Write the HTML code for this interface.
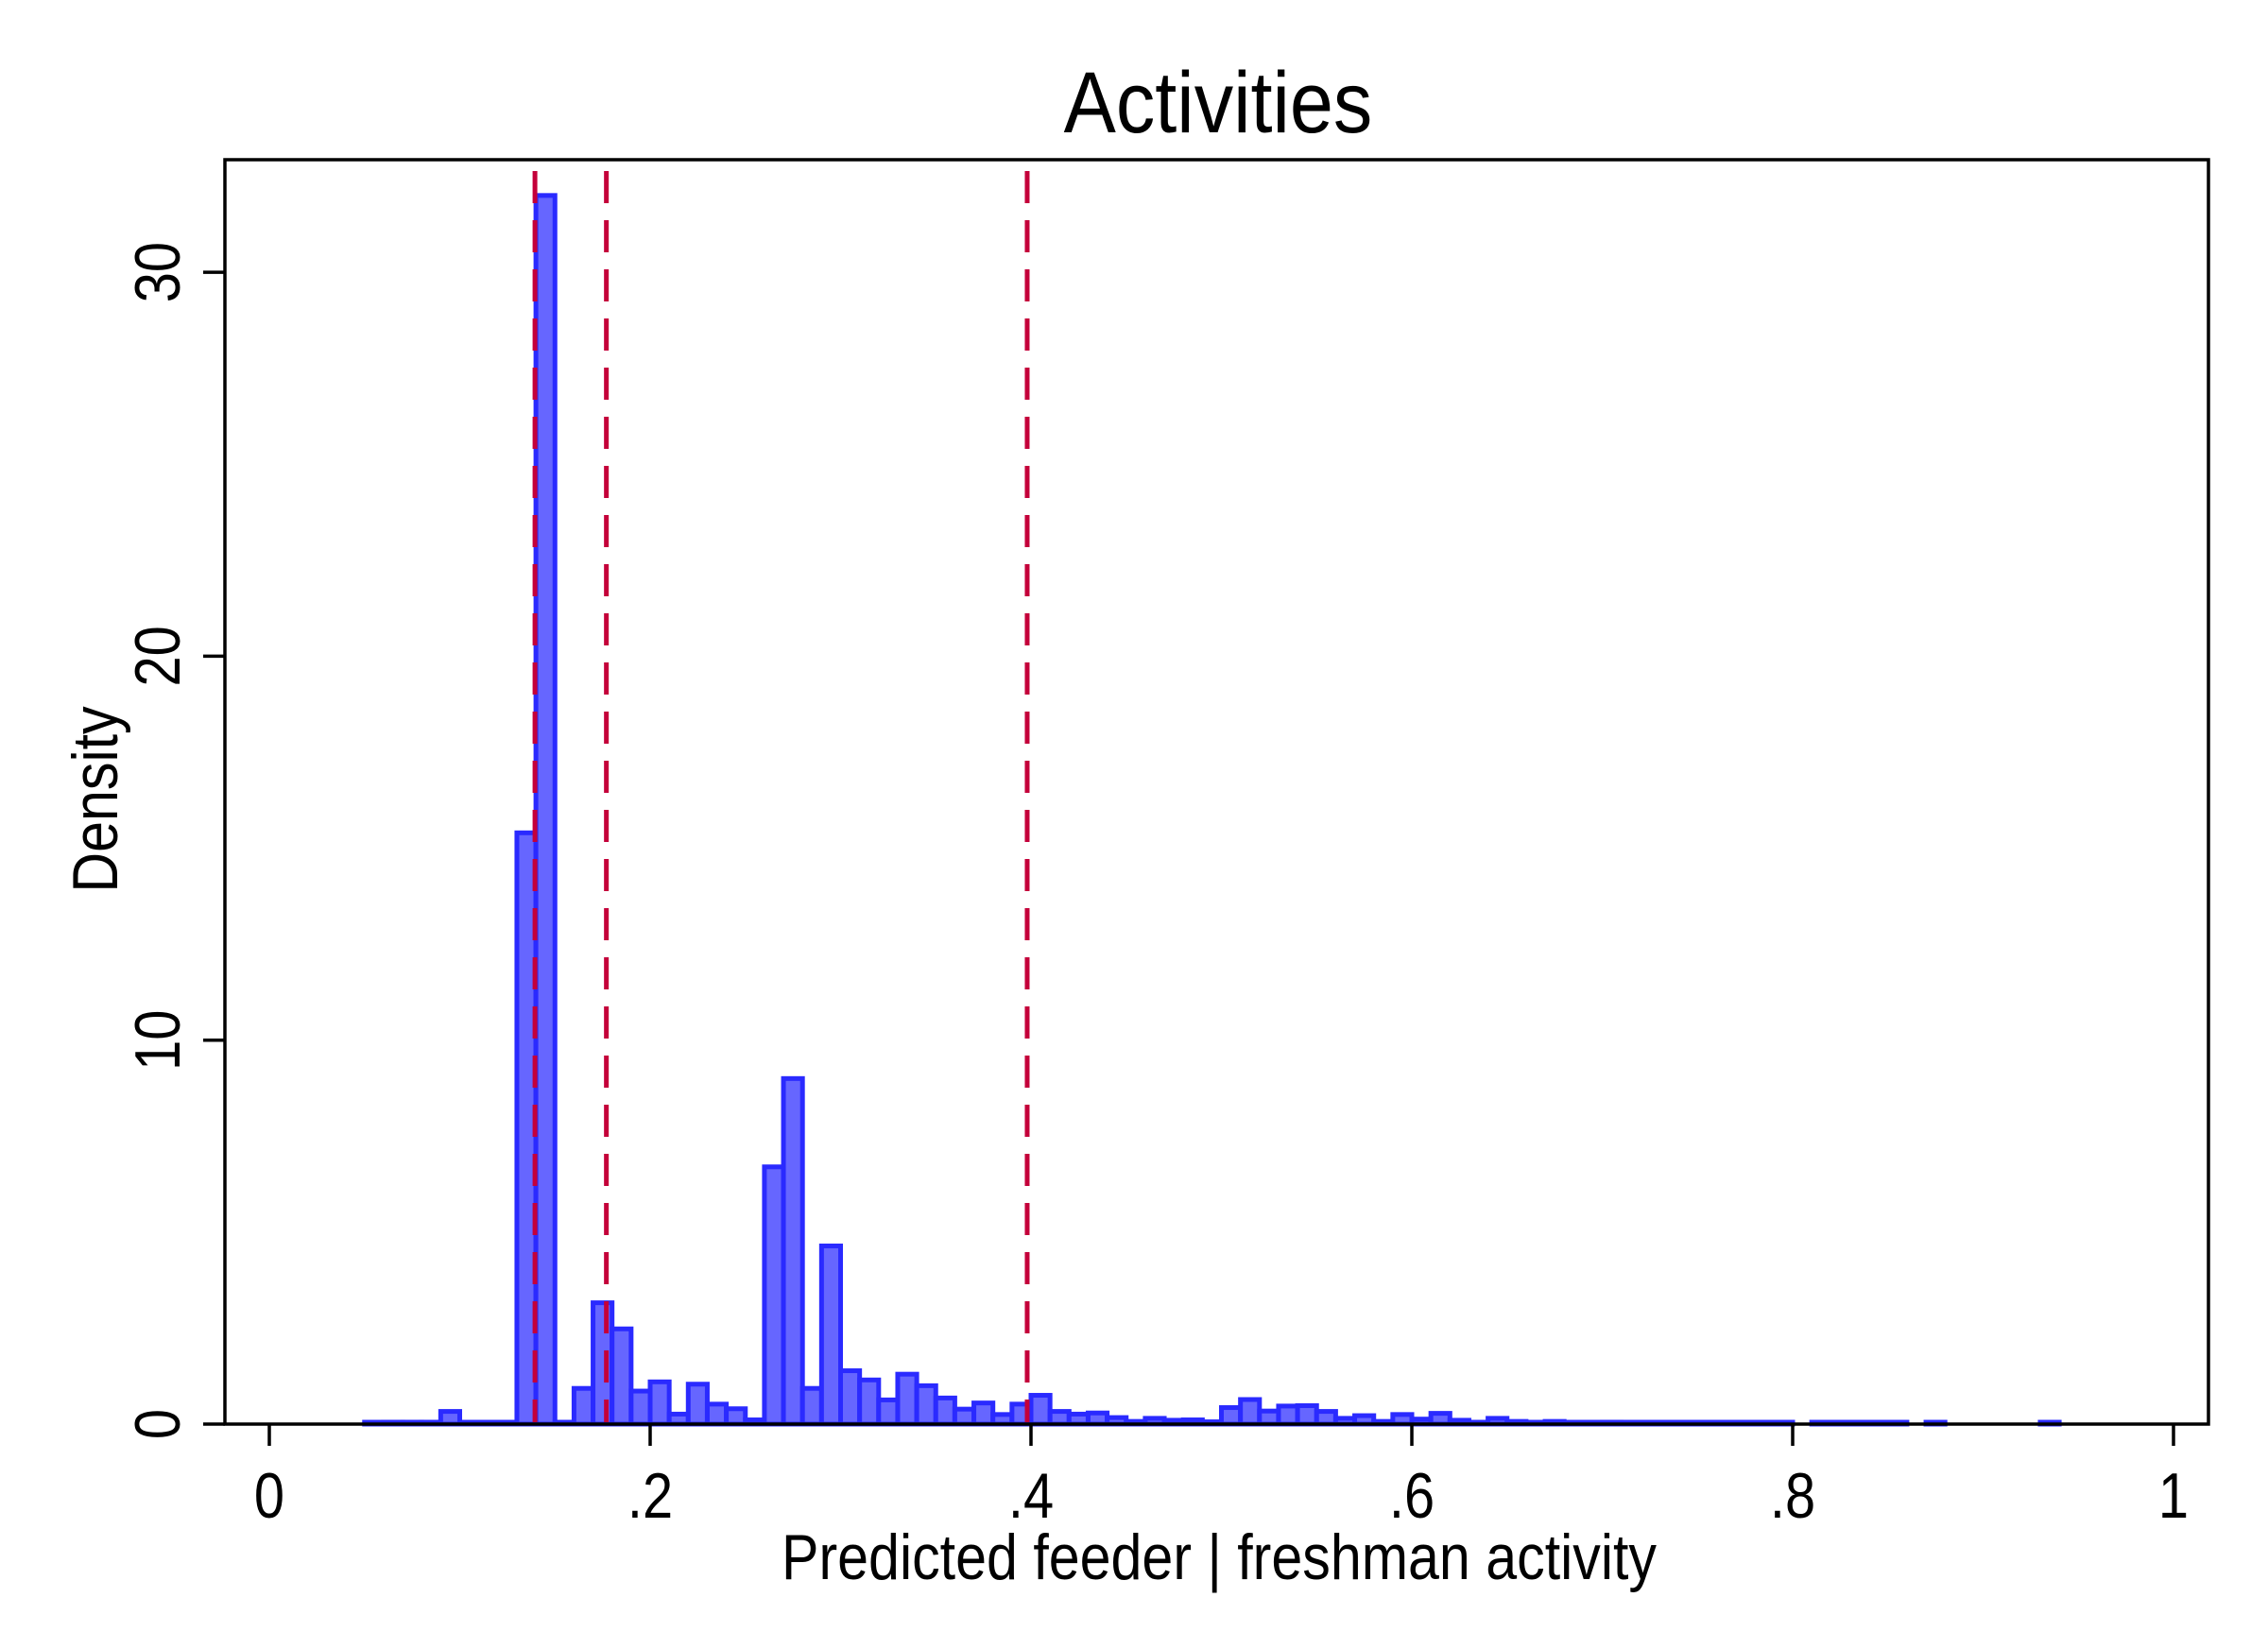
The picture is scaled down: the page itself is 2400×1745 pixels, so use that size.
<!DOCTYPE html>
<html><head><meta charset="utf-8"><style>
html,body{margin:0;padding:0;background:#fff;}
svg{display:block;font-family:"Liberation Sans",Arial,sans-serif;}
</style></head><body>
<svg id="chart" width="2400" height="1745" viewBox="0 0 2400 1745" xmlns="http://www.w3.org/2000/svg">
<rect x="0" y="0" width="2400" height="1745" fill="#fff"/>
<text transform="translate(1289,140) scale(0.9,1)" font-size="92" text-anchor="middle">Activities</text>
<g id="bars"></g>
<g id="refs"></g>
<rect x="238" y="169" width="2099" height="1338" fill="none" stroke="#000" stroke-width="3.5"/>
<g id="axes"></g>
<text transform="translate(1290,1671) scale(0.87,1)" font-size="68" text-anchor="middle">Predicted feeder | freshman activity</text>
<text transform="translate(124,846) rotate(-90) scale(0.87,1)" font-size="68" text-anchor="middle">Density</text>
</svg>
<script>
const binStarts = [0.05,0.06,0.07,0.08,0.09,0.10,0.11,0.12,0.13,0.14,0.15,0.16,0.17,0.18,0.19,0.20,0.21,0.22,0.23,0.24,0.25,0.26,0.27,0.28,0.29,0.30,0.31,0.32,0.33,0.34,0.35,0.36,0.37,0.38,0.39,0.40,0.41,0.42,0.43,0.44,0.45,0.46,0.47,0.48,0.49,0.50,0.51,0.52,0.53,0.54,0.55,0.56,0.57,0.58,0.59,0.60,0.61,0.62,0.63,0.64,0.65,0.66,0.67,0.68,0.69,0.70,0.71,0.72,0.73,0.74,0.75,0.76,0.77,0.78,0.79,0.81,0.82,0.83,0.84,0.85,0.87,0.93];
const densities = [0.03,0.05,0.05,0.05,0.33,0.03,0.03,0.03,15.4,32.0,0.02,0.93,3.16,2.48,0.86,1.1,0.26,1.04,0.52,0.4,0.11,6.7,9.0,0.93,4.64,1.39,1.15,0.63,1.3,1.0,0.68,0.39,0.55,0.25,0.52,0.75,0.33,0.26,0.29,0.17,0.07,0.15,0.1,0.11,0.06,0.43,0.64,0.34,0.47,0.48,0.33,0.15,0.22,0.07,0.25,0.13,0.28,0.1,0.03,0.15,0.07,0.02,0.07,0.03,0.02,0.05,0.02,0.02,0.02,0.02,0.02,0.02,0.02,0.02,0.02,0.02,0.02,0.02,0.02,0.02,0.02,0.02];
const binWidth = 0.01;
const refLines = [0.1395,0.177,0.398];
const xTicks = [0,0.2,0.4,0.6,0.8,1];
const xTickLabels = ["0",".2",".4",".6",".8","1"];
const yTicks = [0,10,20,30];
const yTickLabels = ["0","10","20","30"];

const NS="http://www.w3.org/2000/svg";
function xs(v){return 285+v*2015;}
function ys(v){return 1507-v*40.63;}
function mk(tag,attrs,parent){const e=document.createElementNS(NS,tag);for(const k in attrs)e.setAttribute(k,attrs[k]);parent.appendChild(e);return e;}

const gb=document.getElementById('bars');
binStarts.forEach((b,i)=>{
  const x0=xs(b),x1=xs(b+binWidth),y=ys(densities[i]);
  const r=mk('rect',{x:x0,y:Math.min(y,1505),width:x1-x0,height:Math.max(1507-y,2),fill:'#6666ff',stroke:'#2a2aff','stroke-width':5},gb);
  
  
});
const gr=document.getElementById('refs');
refLines.forEach(v=>{
  const l=mk('line',{x1:xs(v),x2:xs(v),y1:171,y2:1505,stroke:'#c4003a','stroke-width':5,'stroke-dasharray':'34 18','stroke-dashoffset':'-10'},gr);
  
  
});
const ga=document.getElementById('axes');
xTicks.forEach((v,i)=>{
  const t=mk('line',{x1:xs(v),x2:xs(v),y1:1507,y2:1530,stroke:'#000','stroke-width':3.5},ga);
  
  
  const tx=mk('text',{transform:`translate(${xs(v)},1606) scale(0.85,1)`,'font-size':68,'text-anchor':'middle'},ga);
  tx.textContent=xTickLabels[i];
  
  
});
yTicks.forEach((v,i)=>{
  const t=mk('line',{x1:215,x2:238,y1:ys(v),y2:ys(v),stroke:'#000','stroke-width':3.5},ga);
  
  
  const tx=mk('text',{transform:`translate(190,${ys(v)}) rotate(-90) scale(0.85,1)`,'font-size':68,'text-anchor':'middle'},ga);
  tx.textContent=yTickLabels[i];
  
  
});
</script>
</body></html>
